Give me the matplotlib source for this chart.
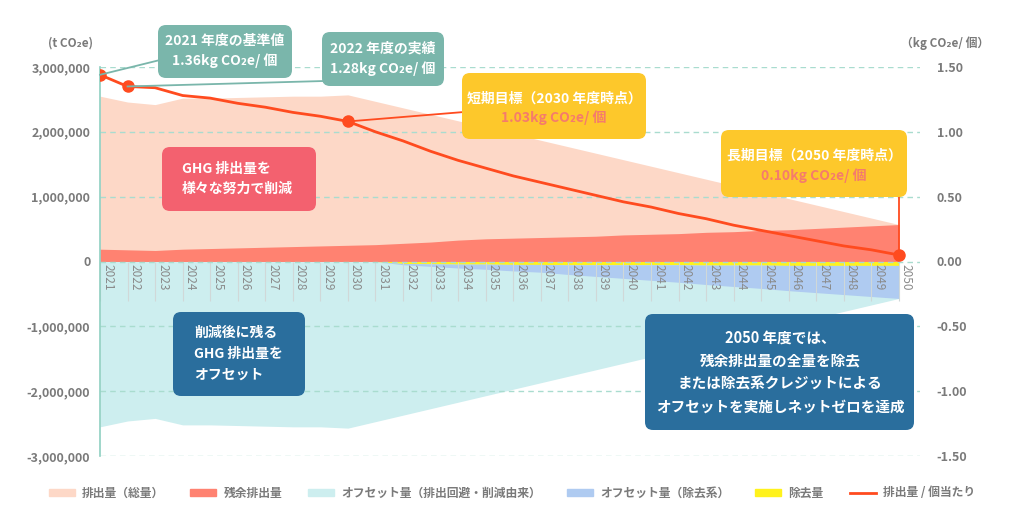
import matplotlib
matplotlib.use("Agg")
import matplotlib.pyplot as plt
from matplotlib.patches import FancyBboxPatch, Patch
from matplotlib.lines import Line2D
from matplotlib.ticker import FuncFormatter
import matplotlib.transforms as mtransforms

plt.rcParams['font.family'] = ['Noto Sans CJK JP', 'DejaVu Sans']

# ---- data ----
years = list(range(2021, 2051))
# 排出量（総量） [t CO2e]
total = [2.55e6, 2.46e6, 2.42e6, 2.52e6, 2.52e6, 2.53e6, 2.54e6, 2.55e6, 2.55e6, 2.57e6,
         2.47e6, 2.37e6, 2.27e6, 2.17e6, 2.07e6, 1.97e6, 1.87e6, 1.77e6, 1.67e6, 1.57e6,
         1.47e6, 1.37e6, 1.27e6, 1.17e6, 1.07e6, 0.97e6, 0.87e6, 0.77e6, 0.67e6, 0.57e6]
# 残余排出量
residual = [0.19e6, 0.18e6, 0.17e6, 0.19e6, 0.20e6, 0.21e6, 0.22e6, 0.23e6, 0.24e6, 0.25e6,
            0.26e6, 0.28e6, 0.30e6, 0.33e6, 0.35e6, 0.36e6, 0.37e6, 0.38e6, 0.39e6, 0.41e6,
            0.42e6, 0.43e6, 0.45e6, 0.46e6, 0.48e6, 0.49e6, 0.51e6, 0.53e6, 0.55e6, 0.57e6]
# 除去量
removal = [0, 0, 0, 0, 0, 0, 0, 0, 0, 0,
           0, 0.03e6, 0.035e6, 0.04e6, 0.04e6, 0.045e6, 0.045e6, 0.05e6, 0.05e6, 0.05e6,
           0.05e6, 0.05e6, 0.055e6, 0.055e6, 0.055e6, 0.06e6, 0.06e6, 0.06e6, 0.06e6, 0.06e6]
# オフセット量（除去系）
offset_removal = [0, 0, 0, 0, 0, 0, 0, 0, 0, 0,
                  0, 0.02e6, 0.04e6, 0.06e6, 0.08e6, 0.10e6, 0.12e6, 0.15e6, 0.18e6, 0.21e6,
                  0.24e6, 0.27e6, 0.30e6, 0.33e6, 0.36e6, 0.39e6, 0.42e6, 0.45e6, 0.48e6, 0.51e6]
# 排出量 / 個当たり [kg CO2e/個]
per_unit = [1.44, 1.35, 1.34, 1.28, 1.26, 1.22, 1.19, 1.15, 1.12, 1.08,
            1.00, 0.93, 0.85, 0.78, 0.72, 0.66, 0.61, 0.56, 0.51, 0.46,
            0.42, 0.37, 0.33, 0.28, 0.24, 0.20, 0.16, 0.12, 0.09, 0.05]
marked_years = [2021, 2022, 2030, 2050]

left_ticks = [-3e6, -2e6, -1e6, 0, 1e6, 2e6, 3e6]
right_ticks = [-1.5, -1.0, -0.5, 0.0, 0.5, 1.0, 1.5]

C_TOTAL = '#fdd8c7'
C_RESID = '#ff8271'
C_OFF_AV = '#cdeeef'
C_OFF_RM = '#afcbf1'
C_REMOVAL = '#fff21c'
C_LINE = '#ff4b1f'
C_GRID = '#a9dccf'
C_TEXT = '#7a7a7a'
C_TEAL = '#7ab6ab'
C_YELLOW = '#fdc82b'
C_CORAL = '#f57b6c'
C_PINK = '#f3616f'
C_NAVY = '#2a6e9d'

W, H = 1024, 514
fig = plt.figure(figsize=(W / 100, H / 100), dpi=100)
ax = fig.add_axes([100 / W, (H - 456) / H, (920 - 100) / W, (456 - 67) / H])

ax.fill_between(years, 0, total, color=C_TOTAL, lw=0, zorder=1)
ax.fill_between(years, 0, residual, color=C_RESID, lw=0, zorder=1)
ax.fill_between(years, 0, [-t for t in total], color=C_OFF_AV, lw=0, zorder=1)
ax.fill_between(years, 0, [-r for r in removal], color=C_REMOVAL, lw=0, zorder=1)
ax.fill_between(years, [-r for r in removal],
                [-(r + o) for r, o in zip(removal, offset_removal)],
                color=C_OFF_RM, lw=0, zorder=1)

x_right = 2021 + (920 - 100) / 27.55
ax.set_xlim(2021, x_right)
ax.set_ylim(-3e6, 3e6)
ax.set_yticks(left_ticks)
ax.yaxis.set_major_formatter(FuncFormatter(lambda v, p: f"{int(v):,}"))
for y in left_ticks:
    ax.axhline(y, color=C_GRID, lw=1, ls=(0, (4, 3)), zorder=3)

for s in ['top', 'right', 'bottom']:
    ax.spines[s].set_visible(False)
ax.spines['left'].set_color('#8fcfc1')
ax.spines['left'].set_linewidth(1.2)
ax.spines['left'].set_zorder(4)
ax.tick_params(axis='y', length=0, pad=7, labelsize=9, labelcolor=C_TEXT)
for lab in ax.get_yticklabels():
    lab.set_fontweight('bold')

# year labels sit just under the zero line
ax.spines['bottom'].set_position(('data', 0))
ax.set_xticks(years)
ax.set_xticklabels([str(y) for y in years], rotation=-90, fontsize=8.5,
                   color='#8a8a8a')
ax.tick_params(axis='x', length=28, width=0.8, color='#d0d8d8', pad=-26,
               direction='out')
shift = mtransforms.ScaledTranslation(7.5 / 100, 0, fig.dpi_scale_trans)
for lab in ax.get_xticklabels():
    lab.set_transform(lab.get_transform() + shift)
    lab.set_va('top')

ax2 = ax.twinx()
ax2.set_ylim(-1.5, 1.5)
ax2.set_yticks(right_ticks)
ax2.set_yticklabels([f"{v:.2f}" for v in right_ticks])
ax2.tick_params(axis='y', length=0, pad=12, labelsize=9, labelcolor=C_TEXT)
for lab in ax2.get_yticklabels():
    lab.set_fontweight('bold')
for s in ax2.spines.values():
    s.set_visible(False)
ax2.plot(years, per_unit, color=C_LINE, lw=2, zorder=5)
ax2.plot(marked_years, [per_unit[years.index(y)] for y in marked_years], 'o',
         color=C_LINE, ms=8, zorder=6)

# overlay in pixel coordinates for callouts
ov = fig.add_axes([0, 0, 1, 1], zorder=10)
ov.set_xlim(0, W)
ov.set_ylim(H, 0)
ov.axis('off')
ov.patch.set_alpha(0)


def px(yr, val):
    return ov.transData.inverted().transform(ax2.transData.transform((yr, val)))


def box(x0, y0, x1, y1, color):
    ov.add_patch(FancyBboxPatch((x0, y0), x1 - x0, y1 - y0,
                                boxstyle='round,pad=0,rounding_size=8',
                                fc=color, ec='none', zorder=3))


def pt(yr):
    return px(yr, per_unit[years.index(yr)])


# connectors
p = pt(2021)
ov.plot([p[0], 160], [p[1], 60], color=C_TEAL, lw=1.3, zorder=2)
p = pt(2022)
ov.plot([p[0], 324], [p[1], 81], color=C_TEAL, lw=1.3, zorder=2)
p = pt(2030)
ov.plot([p[0], 464], [p[1], 112], color=C_LINE, lw=1.3, zorder=2)
p = pt(2050)
ov.plot([p[0], p[0]], [p[1], 195], color=C_LINE, lw=1.3, zorder=2)

bold = dict(fontweight='bold', zorder=4)
box(158, 25, 292, 78, C_TEAL)
ov.text(225, 51, "2021 年度の基準値\n1.36kg CO₂e/ 個", ha='center', va='center',
        color='white', fontsize=10, linespacing=1.5, **bold)
box(322, 32, 444, 86, C_TEAL)
ov.text(383, 59, "2022 年度の実績\n1.28kg CO₂e/ 個", ha='center', va='center',
        color='white', fontsize=10, linespacing=1.5, **bold)

box(462, 73, 646, 139, C_YELLOW)
ov.text(554, 99, "短期目標（2030 年度時点）", ha='center', va='center',
        color='white', fontsize=10, **bold)
ov.text(554, 118, "1.03kg CO₂e/ 個", ha='center', va='center',
        color=C_CORAL, fontsize=10, **bold)

box(721, 130, 907, 197, C_YELLOW)
ov.text(814, 156, "長期目標（2050 年度時点）", ha='center', va='center',
        color='white', fontsize=10, **bold)
ov.text(814, 176, "0.10kg CO₂e/ 個", ha='center', va='center',
        color=C_CORAL, fontsize=10, **bold)

box(162, 147, 316, 211, C_PINK)
ov.text(182, 179, "GHG 排出量を\n様々な努力で削減", ha='left', va='center',
        color='white', fontsize=10, linespacing=1.6, **bold)

box(173, 312, 305, 396, C_NAVY)
ov.text(194, 354, "削減後に残る\nGHG 排出量を\nオフセット", ha='left', va='center',
        color='white', fontsize=10, linespacing=1.6, **bold)

box(645, 314, 914, 430, C_NAVY)
ov.text(780, 372, "2050 年度では、\n残余排出量の全量を除去\nまたは除去系クレジットによる\n"
        "オフセットを実施しネットゼロを達成", ha='center', va='center',
        color='white', fontsize=10.5, linespacing=1.55, **bold)

# axis units
ov.text(70, 43, "(t CO₂e)", ha='center', va='center', color=C_TEXT,
        fontsize=8.5, fontweight='bold')
ov.text(945, 43, "（kg CO₂e/ 個）", ha='center', va='center', color=C_TEXT,
        fontsize=8.5, fontweight='bold')

handles = [Patch(color=C_TOTAL), Patch(color=C_RESID), Patch(color=C_OFF_AV),
           Patch(color=C_OFF_RM), Patch(color=C_REMOVAL),
           Line2D([], [], color=C_LINE, lw=2)]
labels = ["排出量（総量）", "残余排出量", "オフセット量（排出回避・削減由来）",
          "オフセット量（除去系）", "除去量", "排出量 / 個当たり"]
leg = fig.legend(handles, labels, loc='center', bbox_to_anchor=(0.5, 1 - 493 / H),
                 ncol=6, frameon=False, fontsize=8.5, handlelength=2.2,
                 handleheight=0.6, columnspacing=2.2, handletextpad=0.6)
for t in leg.get_texts():
    t.set_color(C_TEXT)
    t.set_fontweight('bold')

fig.savefig("out.png", dpi=100)
